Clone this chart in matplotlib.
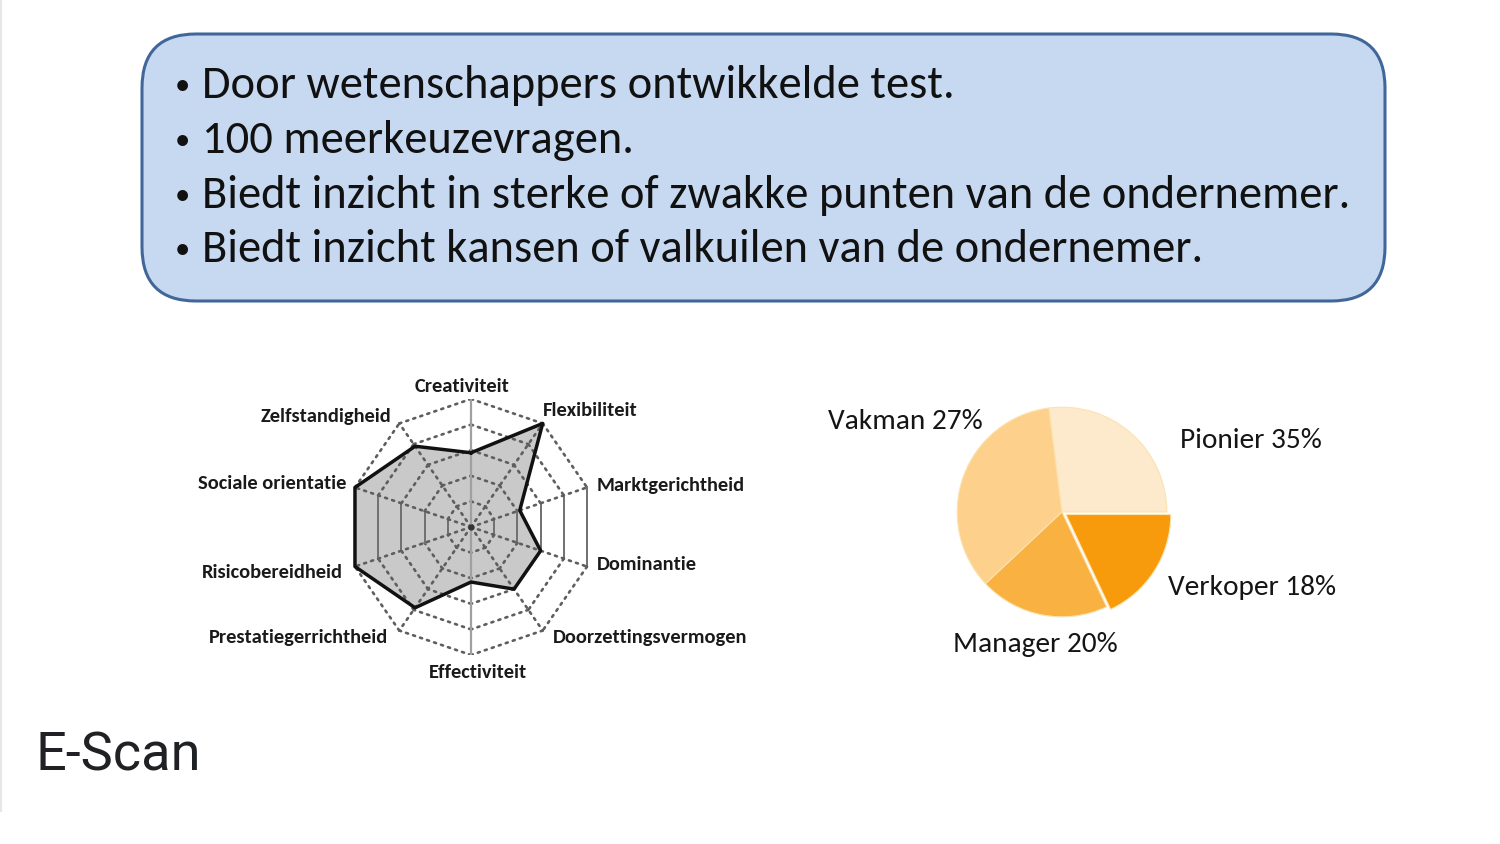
import numpy as np
import matplotlib
matplotlib.use("Agg")
import matplotlib.pyplot as plt
from matplotlib.patches import FancyBboxPatch
from matplotlib.lines import Line2D

# ---------------- data ----------------
bullets = [
    "Door wetenschappers ontwikkelde test.",
    "100 meerkeuzevragen.",
    "Biedt inzicht in sterke of zwakke punten van de ondernemer.",
    "Biedt inzicht kansen of valkuilen van de ondernemer.",
]
radar_labels = ["Creativiteit", "Flexibiliteit", "Marktgerichtheid", "Dominantie",
                "Doorzettingsvermogen", "Effectiviteit", "Prestatiegerrichtheid",
                "Risicobereidheid", "Sociale orientatie", "Zelfstandigheid"]
radar_values = [2.9, 5.0, 2.1, 3.0, 3.0, 2.15, 3.9, 5.0, 5.0, 3.9]
radar_max = 5
pie_labels = ["Vakman", "Pionier", "Manager", "Verkoper"]
pie_shares = [27, 35, 20, 18]
title = "E-Scan"

W, H = 1500, 845
fig = plt.figure(figsize=(W / 100, H / 100), dpi=100)
fig.patch.set_facecolor("white")

def fx(x):
    return x / W

def fy(y):
    return 1 - y / H

LAT = ["Carlito", "Lato", "DejaVu Sans"]

# faint slide edge
fig.add_artist(Line2D([fx(1), fx(1)], [fy(0), fy(812)], transform=fig.transFigure,
                      color="#e6e6e6", lw=1.5))

# ---------------- top box ----------------
box = FancyBboxPatch((fx(142), fy(302)), fx(1385) - fx(142), fy(35) - fy(302),
                     boxstyle="round,pad=0,rounding_size=0.036",
                     transform=fig.transFigure, facecolor="#c6d9f1",
                     edgecolor="#41679a", linewidth=2.2, mutation_aspect=W / H)
fig.add_artist(box)

baselines = [98, 153, 208, 262]
txts = []
bts = []
for s, yb in zip(bullets, baselines):
    b = fig.text(fx(175), fy(yb - 4), "\u2022", fontsize=22, family=LAT, va="baseline",
                 ha="left", color="#111111")
    bts.append(b)
    t = fig.text(fx(202), fy(yb), s, fontsize=30, family=LAT, va="baseline",
                 ha="left", color="#111111")
    txts.append(t)

fig.canvas.draw()
R = fig.canvas.get_renderer()

def fit(t, target):
    bb = t.get_window_extent(renderer=R)
    t.set_fontsize(t.get_fontsize() * target / bb.width)
    return t.get_fontsize()

fs = fit(txts[2], 1148)
for t in txts:
    t.set_fontsize(fs)

# ---------------- radar ----------------
cx, cy, rx, ry = 471, 528, 122, 128
axr = fig.add_axes([fx(cx - rx), fy(cy + ry), (2 * rx) / W, (2 * ry) / H])
axr.set_xlim(-1, 1)
axr.set_ylim(-1, 1)
axr.axis("off")
n = len(radar_labels)
ang = np.deg2rad(90 - 36 * np.arange(n))
vals = np.array(radar_values) / radar_max
px = vals * np.cos(ang)
py = vals * np.sin(ang)
axr.fill(px, py, color="#c9c9c9", zorder=1, lw=0)

dot = dict(color="#5e5e5e", lw=1.9, linestyle=(0, (0.8, 2.0)), zorder=2,
           dash_capstyle="round")
for k in range(1, radar_max + 1):
    r = k / radar_max
    xs = r * np.cos(ang)
    ys = r * np.sin(ang)
    for i in range(n):
        j = (i + 1) % n
        if (i, j) in [(2, 3), (7, 8)]:
            axr.plot([xs[i], xs[j]], [ys[i], ys[j]], color="#707070", lw=1.4, zorder=2)
        else:
            axr.plot([xs[i], xs[j]], [ys[i], ys[j]], **dot)
for i in range(n):
    if i in (0, 5):
        continue
    axr.plot([0, np.cos(ang[i])], [0, np.sin(ang[i])], **dot)
axr.plot([0, 0], [-1, 1], color="#a0a0a0", lw=1.6, zorder=2)
axr.plot(np.append(px, px[0]), np.append(py, py[0]), color="#111111", lw=2.5,
         zorder=3, solid_joinstyle="round")
axr.plot([0], [0], "o", color="#333333", ms=3.5, zorder=4)

# label positions (pixels): (x, y, ha)
lab_pos = [(462, 386, "center"), (543, 410, "left"), (597, 485, "left"),
           (597, 565, "left"), (553, 638, "left"), (478, 673, "center"),
           (388, 638, "right"), (343, 572, "right"), (346, 484, "right"),
           (391, 417, "right")]
rl = []
for lab, (x, y, ha) in zip(radar_labels, lab_pos):
    t = fig.text(fx(x), fy(y), lab, fontsize=13, family=LAT, weight="bold",
                 ha=ha, va="center", color="#1a1a1a")
    rl.append(t)
fig.canvas.draw()
fs2 = fit(rl[4], 195)
for t in rl:
    t.set_fontsize(fs2)

# ---------------- pie ----------------
pcx, pcy, pr = 1062, 513, 109
axp = fig.add_axes([fx(pcx - pr), fy(pcy + pr), 2 * pr / W, 2 * pr / H])
cols = ["#fde9cc", "#fdd18c", "#f9b142", "#f79b0c"]
axp.pie(pie_shares, colors=cols, startangle=0, counterclock=True,
        explode=[0, 0, 0, 0.045],
        wedgeprops=dict(edgecolor="#fbe3b0", linewidth=0.8))
axp.set_xlim(-1.04, 1.04)
axp.set_ylim(-1.04, 1.04)
axp.axis("off")

pie_pos = {"Vakman": (828, 422), "Pionier": (1180, 441),
           "Verkoper": (1168, 587), "Manager": (953, 645)}
pl = []
for lab, v in zip(pie_labels, pie_shares):
    x, y = pie_pos[lab]
    t = fig.text(fx(x), fy(y), f"{lab} {v}%", fontsize=17, family=LAT,
                 ha="left", va="center", color="#151515")
    t.set_path_effects([])
    pl.append(t)
fig.canvas.draw()
fs3 = fit(pl[0], 155)
for t in pl:
    t.set_fontsize(fs3)

# ---------------- title ----------------
fig.text(fx(36), fy(771), title, fontsize=39, family=["Roboto", "DejaVu Sans"],
         ha="left", va="baseline", color="#202124")

fig.savefig("out.png", dpi=100, facecolor="white")
